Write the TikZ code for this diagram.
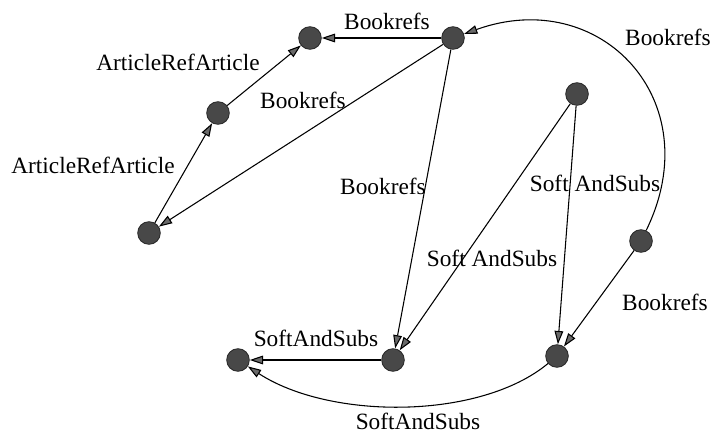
\documentclass[tikz,border=0pt]{standalone}
\usepackage{fontspec}
\setmainfont{Liberation Serif}
\usetikzlibrary{arrows.meta}
\definecolor{nodegray}{RGB}{72,72,72}
\definecolor{tipgray}{RGB}{105,105,105}

\begin{document}
\begin{tikzpicture}[x=0.75pt,y=0.75pt,yscale=-1,xscale=1,
  vertex/.style={circle,fill=nodegray,draw=black!85,line width=0.6pt,minimum size=17pt,inner sep=0pt},
  rel/.style={draw,line width=0.8pt,-{Triangle[length=10pt,width=6.5pt,fill=tipgray]}},
  lbl/.style={font=\fontsize{17.5}{20}\selectfont,inner sep=0pt}]
%set diagram left start at 0, and has height of 434
\useasboundingbox (0,0) rectangle (712,434);

%Shape: Circles
\node [vertex] (art1) at (310,38) {};
\node [vertex] (book) at (453,38) {};
\node [vertex] (art2) at (218,113) {};
\node [vertex] (art3) at (149,233) {};
\node [vertex] (soft) at (577,94) {};
\node [vertex] (book2) at (641,241) {};
\node [vertex] (subsA) at (393,360) {};
\node [vertex] (subsB) at (238,360) {};
\node [vertex] (subsC) at (557,356) {};

%Straight Lines
\draw [rel] (book) -- (art1) ;
\draw [rel] (art2) -- (art1) ;
\draw [rel] (art3) -- (art2) ;
\draw [rel] (book) -- (art3) ;
\draw [rel] (book) -- (subsA) ;
\draw [rel] (soft) -- (subsA) ;
\draw [rel] (soft) -- (subsC) ;
\draw [rel] (book2) -- (subsC) ;
\draw [rel] (subsA) -- (subsB) ;

%Curve Lines
\draw [rel] (book2) .. controls (710,100) and (600,-15) .. (book) ;
\draw [rel] (subsC) .. controls (480,420) and (330,420) .. (subsB) ;

%Labels
\node [lbl] (l1) at (387,21) {Bookrefs};
\node [lbl] (l2) at (178,62) {ArticleRefArticle};
\node [lbl] (l3) at (93,165) {ArticleRefArticle};
\node [lbl] (l4) at (303,100) {Bookrefs};
\node [lbl] (l5) at (383,186) {Bookrefs};
\node [lbl] (l6) at (668,37) {Bookrefs};
\node [lbl] (l7) at (595,183) {Soft AndSubs};
\node [lbl] (l8) at (492,258) {Soft AndSubs};
\node [lbl] (l9) at (665,302) {Bookrefs};
\node [lbl] (l10) at (316,338) {SoftAndSubs};
\node [lbl] (l11) at (418,421) {SoftAndSubs};

\end{tikzpicture}
\end{document}
